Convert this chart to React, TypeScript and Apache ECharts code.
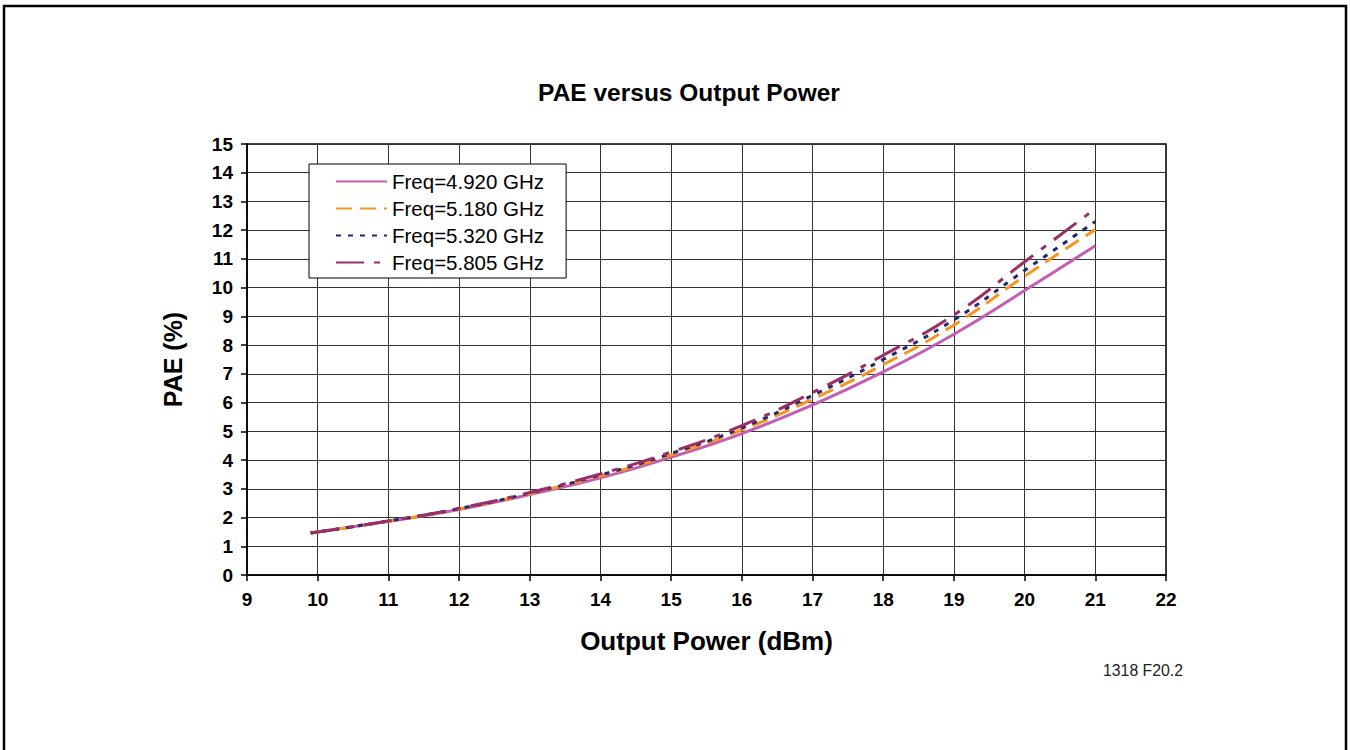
import React, { useEffect, useRef } from "react";
import * as echarts from "echarts";

const xPower = [9.9, 11, 12, 13, 14, 15, 16, 17, 18, 19, 20, 21];
const pae4920 = [1.46, 1.87, 2.28, 2.8, 3.38, 4.1, 4.92, 5.92, 7.07, 8.38, 9.9, 11.46];
const pae5180 = [1.46, 1.87, 2.3, 2.83, 3.45, 4.18, 5.05, 6.12, 7.32, 8.7, 10.4, 12.02];
const pae5320 = [1.46, 1.88, 2.31, 2.85, 3.48, 4.23, 5.12, 6.25, 7.5, 8.88, 10.6, 12.3];
const pae5805 = [1.46, 1.88, 2.32, 2.87, 3.52, 4.28, 5.2, 6.35, 7.65, 9.05, 10.9, 12.75];
const seriesNames = ["Freq=4.920 GHz", "Freq=5.180 GHz", "Freq=5.320 GHz", "Freq=5.805 GHz"];

const FONT = "'Liberation Sans', Arial, Helvetica, sans-serif";

function pairs(ys: number[]) {
  return xPower.map((x, i) => [x, ys[i]]);
}

export default function App() {
  const ref = useRef<HTMLDivElement>(null);
  useEffect(() => {
    document.body.style.margin = "0";
    const chart = echarts.init(ref.current!, null, { renderer: "svg" });
    const mk = (name: string, data: number[], color: string, width: number, type: any) => ({
      name,
      type: "line",
      data: pairs(data),
      smooth: true,
      showSymbol: false,
      symbol: "none",
      lineStyle: { color, width, type },
      itemStyle: { color },
    });
    chart.setOption({
      animation: false,
      backgroundColor: "#fff",
      grid: { left: 247, top: 144, width: 919, height: 431, show: true, borderColor: "#000", borderWidth: 1.5 },
      graphic: [
        {
          type: "rect",
          shape: { x: 4, y: 6, width: 1342, height: 760 },
          style: { fill: "none", stroke: "#000", lineWidth: 2.5 },
          silent: true,
        },
        {
          type: "text",
          x: 689,
          y: 92,
          style: {
            text: "PAE versus Output Power",
            font: `bold 24.5px ${FONT}`,
            fill: "#000",
            align: "center",
            verticalAlign: "middle",
          },
        },
        {
          type: "text",
          x: 1143,
          y: 670,
          style: {
            text: "1318 F20.2",
            font: `15.8px ${FONT}`,
            fill: "#222",
            align: "center",
            verticalAlign: "middle",
          },
        },
      ],
      legend: {
        orient: "vertical",
        left: 309,
        top: 164,
        itemWidth: 51,
        itemHeight: 14,
        itemGap: 6,
        padding: [7, 22, 5, 26],
        backgroundColor: "#fff",
        borderColor: "#000",
        borderWidth: 1,
        borderRadius: 0,
        itemStyle: { opacity: 0, borderWidth: 0 },
        textStyle: { fontFamily: FONT, fontSize: 20.5, color: "#000", padding: [0, 0, 0, 0] },
        data: seriesNames,
      },
      xAxis: {
        type: "value",
        min: 9,
        max: 22,
        interval: 1,
        name: "Output Power (dBm)",
        nameLocation: "middle",
        nameGap: 53,
        nameTextStyle: { fontFamily: FONT, fontSize: 26, fontWeight: "bold", color: "#000" },
        axisLine: { show: true, onZero: false, lineStyle: { color: "#000", width: 1.5 } },
        axisTick: { show: true, length: 6, lineStyle: { color: "#000", width: 1.5 } },
        axisLabel: { fontFamily: FONT, fontSize: 19, fontWeight: "bold", color: "#000", margin: 15 },
        splitLine: { show: true, lineStyle: { color: "#333", width: 1 } },
      },
      yAxis: {
        type: "value",
        min: 0,
        max: 15,
        interval: 1,
        name: "PAE (%)",
        nameLocation: "middle",
        nameGap: 62,
        nameRotate: 90,
        nameTextStyle: { fontFamily: FONT, fontSize: 25, fontWeight: "bold", color: "#000" },
        axisLine: { show: true, onZero: false, lineStyle: { color: "#000", width: 1.5 } },
        axisTick: { show: true, length: 6, lineStyle: { color: "#000", width: 1.5 } },
        axisLabel: { fontFamily: FONT, fontSize: 19, fontWeight: "bold", color: "#000", margin: 14 },
        splitLine: { show: true, lineStyle: { color: "#333", width: 1 } },
      },
      series: [
        mk(seriesNames[0], pae4920, "#c45db4", 3, "solid"),
        mk(seriesNames[1], pae5180, "#f7961e", 3, [16, 8]),
        mk(seriesNames[2], pae5320, "#25286f", 3, [5, 7]),
        mk(seriesNames[3], pae5805, "#9a2e68", 3, [28, 10, 6, 10]),
      ],
    });
    return () => chart.dispose();
  }, []);
  return <div ref={ref} style={{ width: 1350, height: 750 }} />;
}
